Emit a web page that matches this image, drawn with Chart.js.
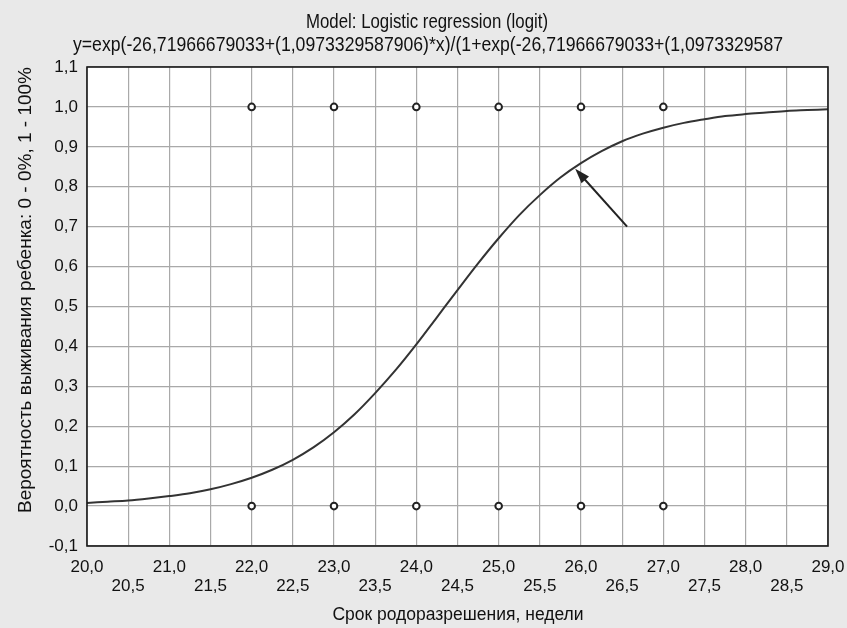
<!DOCTYPE html>
<html>
<head>
<meta charset="utf-8">
<script src="https://cdn.jsdelivr.net/npm/chart.js@4/dist/chart.umd.min.js"></script>
<style>
html,body{margin:0;padding:0;background:#e9e9e9;}
#wrap{width:847px;height:628px;position:relative;}
</style>
</head>
<body>
<div id="wrap"><canvas id="c" width="847" height="628"></canvas></div>
<script>
// ---- data ----
const titleLines = [
  "Model: Logistic regression (logit)",
  "y=exp(-26,71966679033+(1,0973329587906)*x)/(1+exp(-26,71966679033+(1,0973329587"
];
const xAxisTitle = "Срок родоразрешения, недели";
const yAxisTitle = "Вероятность выживания ребенка: 0 - 0%, 1 - 100%";

const curveX = [20,20.25,20.5,20.75,21,21.25,21.5,21.75,22,22.25,22.5,22.75,23,23.25,23.5,23.75,24,24.25,24.5,24.75,25,25.25,25.5,25.75,26,26.25,26.5,26.75,27,27.25,27.5,27.75,28,28.25,28.5,28.75,29];
const curveY = [0.008,0.011,0.014,0.019,0.025,0.032,0.042,0.055,0.071,0.091,0.116,0.147,0.185,0.230,0.283,0.341,0.405,0.473,0.541,0.608,0.671,0.729,0.779,0.823,0.859,0.889,0.914,0.933,0.948,0.960,0.969,0.977,0.982,0.986,0.990,0.992,0.994];

const obsX = [22,23,24,25,26,27,22,23,24,25,26,27];
const obsY = [1,1,1,1,1,1,0,0,0,0,0,0];

const arrowFrom = [26.56, 0.70];
const arrowTo = [25.93, 0.845];

const xMin = 20, xMax = 29, xStep = 0.5;
const yMin = -0.1, yMax = 1.1, yStep = 0.1;

const fmt = v => v.toFixed(1).replace('.', ',');

const FONT = "'Liberation Sans', Arial, sans-serif";

function condensedText(ctx, text, cx, cy, targetW) {
  const w = ctx.measureText(text).width;
  const k = Math.min(1, targetW / w);
  ctx.save();
  ctx.translate(cx, cy);
  ctx.scale(k, 1);
  ctx.fillText(text, 0, 0);
  ctx.restore();
}

const decor = {
  id: 'decor',
  beforeDraw(chart) {
    const {ctx, chartArea: a} = chart;
    ctx.save();
    ctx.fillStyle = '#ffffff';
    ctx.fillRect(a.left, a.top, a.right - a.left, a.bottom - a.top);
    ctx.restore();
  },
  afterDraw(chart) {
    const {ctx, chartArea: a, scales} = chart;
    const xs = scales.x, ys = scales.y;
    ctx.save();
    // border
    ctx.strokeStyle = '#1a1a1a';
    ctx.lineWidth = 1.6;
    ctx.strokeRect(a.left, a.top, a.right - a.left, a.bottom - a.top);
    // titles
    ctx.fillStyle = '#111';
    ctx.textAlign = 'center';
    ctx.textBaseline = 'middle';
    ctx.font = '21px ' + FONT;
    condensedText(ctx, titleLines[0], 427, 22, 242);
    condensedText(ctx, titleLines[1], 428, 45, 710);
    ctx.font = '17.5px ' + FONT;
    ctx.fillText(xAxisTitle, 458, 615);
    ctx.translate(26, 290);
    ctx.rotate(-Math.PI / 2);
    ctx.font = '19px ' + FONT;
    ctx.fillText(yAxisTitle, 0, 0);
    ctx.restore();
    // arrow
    ctx.save();
    const x1 = xs.getPixelForValue(arrowFrom[0]), y1 = ys.getPixelForValue(arrowFrom[1]);
    const x2 = xs.getPixelForValue(arrowTo[0]), y2 = ys.getPixelForValue(arrowTo[1]);
    const ang = Math.atan2(y2 - y1, x2 - x1);
    ctx.strokeStyle = '#222';
    ctx.fillStyle = '#222';
    ctx.lineWidth = 2;
    ctx.beginPath();
    ctx.moveTo(x1, y1);
    ctx.lineTo(x2 - 8 * Math.cos(ang), y2 - 8 * Math.sin(ang));
    ctx.stroke();
    ctx.beginPath();
    ctx.moveTo(x2, y2);
    ctx.lineTo(x2 - 15 * Math.cos(ang) + 5 * Math.sin(ang), y2 - 15 * Math.sin(ang) - 5 * Math.cos(ang));
    ctx.lineTo(x2 - 15 * Math.cos(ang) - 5 * Math.sin(ang), y2 - 15 * Math.sin(ang) + 5 * Math.cos(ang));
    ctx.closePath();
    ctx.fill();
    ctx.restore();
  }
};

new Chart(document.getElementById('c'), {
  type: 'scatter',
  data: {
    datasets: [
      {
        type: 'line',
        data: curveX.map((x, i) => ({x, y: curveY[i]})),
        borderColor: '#333333',
        borderWidth: 2,
        pointRadius: 0,
        tension: 0.4,
        cubicInterpolationMode: 'monotone',
        fill: false
      },
      {
        data: obsX.map((x, i) => ({x, y: obsY[i]})),
        pointRadius: 3.3,
        pointBorderWidth: 2,
        pointBorderColor: '#222222',
        pointBackgroundColor: '#ffffff'
      }
    ]
  },
  options: {
    responsive: false,
    animation: false,
    events: [],
    layout: {padding: {left: 0, top: 67, right: 19, bottom: 0}},
    plugins: {legend: {display: false}, tooltip: {enabled: false}, title: {display: false}},
    scales: {
      x: {
        type: 'linear', min: xMin, max: xMax,
        afterFit(s) { s.height = 82; s.paddingLeft = 0; s.paddingRight = 0; },
        afterBuildTicks(s) {
          const t = [];
          for (let v = xMin; v <= xMax + 1e-9; v += xStep) t.push({value: Math.round(v * 10) / 10});
          s.ticks = t;
        },
        grid: {color: '#a9a9a9', lineWidth: 1.2, drawTicks: false},
        border: {display: false},
        ticks: {
          autoSkip: false, maxRotation: 0, minRotation: 0, padding: 12,
          color: '#111',
          font: {family: FONT, size: 17, lineHeight: 1.1},
          callback: v => (Math.abs(v - Math.round(v)) < 1e-6) ? [fmt(v), ''] : ['', fmt(v)]
        }
      },
      y: {
        type: 'linear', min: yMin, max: yMax,
        afterFit(s) { s.width = 87; s.paddingTop = 0; s.paddingBottom = 0; },
        afterBuildTicks(s) {
          const t = [];
          for (let i = 0; i <= 12; i++) t.push({value: Math.round((yMin + i * yStep) * 10) / 10});
          s.ticks = t;
        },
        grid: {color: '#a9a9a9', lineWidth: 1.2, drawTicks: false},
        border: {display: false},
        ticks: {
          padding: 9, color: '#111',
          font: {family: FONT, size: 17},
          callback: v => fmt(v)
        }
      }
    }
  },
  plugins: [decor]
});
</script>
</body>
</html>
